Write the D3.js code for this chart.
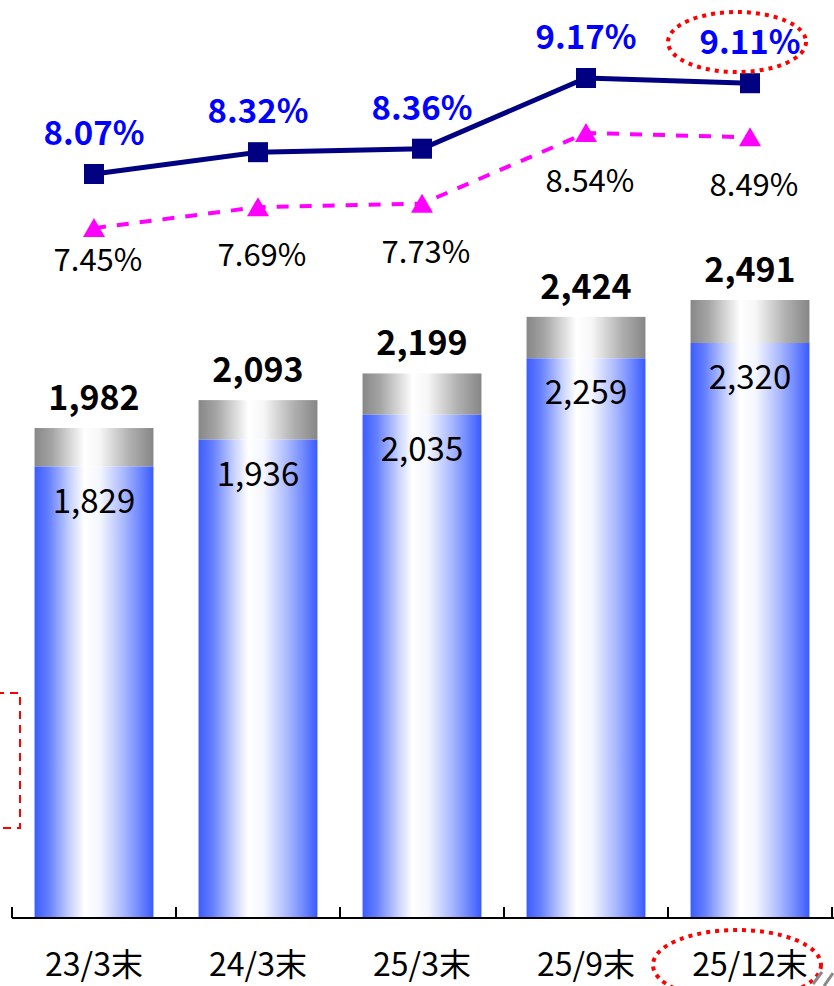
<!DOCTYPE html>
<html><head><meta charset="utf-8">
<script src="https://cdn.jsdelivr.net/npm/d3@7"></script>
<style>body{margin:0;background:#fff}svg{display:block}text{font-family:"Noto Sans CJK JP","Noto Sans",sans-serif}</style>
</head><body>
<script>
const categories = ["23/3末","24/3末","25/3末","25/9末","25/12末"];
const totalValues = [1982, 2093, 2199, 2424, 2491];
const innerValues = [1829, 1936, 2035, 2259, 2320];
const ratioA = [8.07, 8.32, 8.36, 9.17, 9.11];
const ratioB = [7.45, 7.69, 7.73, 8.54, 8.49];
const labelBOffset = [43, 59, 59, 59, 59];

const W = 834, H = 986, axisY = 918;
const svg = d3.select("body").append("svg").attr("width", W).attr("height", H);
const defs = svg.append("defs");
function grad(id, stops){
  const g = defs.append("linearGradient").attr("id", id).attr("x1","0").attr("x2","1").attr("y1","0").attr("y2","0");
  stops.forEach(s => g.append("stop").attr("offset", s[0]).attr("stop-color", s[1]));
}
grad("gBlue", [[0,"#3c5cff"],[0.12,"#6580ff"],[0.3,"#c8d2ff"],[0.42,"#ffffff"],[0.55,"#f4f6ff"],[0.75,"#a9b8ff"],[0.9,"#6882ff"],[1,"#3a5aff"]]);
grad("gGray", [[0,"#878787"],[0.15,"#a5a5a5"],[0.42,"#ffffff"],[0.55,"#f6f6f6"],[0.8,"#b0b0b0"],[1,"#868686"]]);

const x = d3.scaleBand().domain(categories).range([12, 832]).paddingInner(0.275).paddingOuter(0.1375);
const yBar = d3.scaleLinear().domain([34, 2491]).range([axisY, 300]);
const yPct = d3.scaleLinear().domain([8.07, 9.17]).range([174, 78]);

// bars
const bars = svg.append("g");
categories.forEach((c,i)=>{
  bars.append("rect").attr("x", x(c)).attr("width", x.bandwidth())
    .attr("y", yBar(totalValues[i])).attr("height", yBar(innerValues[i]) - yBar(totalValues[i]))
    .attr("fill","url(#gGray)");
  bars.append("rect").attr("x", x(c)).attr("width", x.bandwidth())
    .attr("y", yBar(innerValues[i])).attr("height", axisY - yBar(innerValues[i]))
    .attr("fill","url(#gBlue)");
  const cx = x(c) + x.bandwidth()/2;
  svg.append("text").attr("x", cx).attr("y", yBar(totalValues[i]) - 18)
    .attr("text-anchor","middle").attr("font-size", 34).attr("font-weight","bold").attr("fill","#000")
    .text(d3.format(",")(totalValues[i]));
  svg.append("text").attr("x", cx).attr("y", yBar(innerValues[i]) + 46)
    .attr("text-anchor","middle").attr("font-size", 33).attr("fill","#000")
    .text(d3.format(",")(innerValues[i]));
});

// axis
const axisG = svg.append("g").attr("transform", `translate(0,${axisY})`);
axisG.append("line").attr("x1", 12).attr("x2", W).attr("y1", 0).attr("y2", 0).attr("stroke","#000").attr("stroke-width",2);
const tickXs = categories.map(c => x(c) - x.step()*x.paddingInner()/2).concat([x(categories[4]) + x.bandwidth() + x.step()*x.paddingInner()/2]);
tickXs.forEach(t => axisG.append("line").attr("x1", t).attr("x2", t).attr("y1", 0).attr("y2", -11).attr("stroke","#000").attr("stroke-width",2));
categories.forEach(c => {
  svg.append("text").attr("x", x(c) + x.bandwidth()/2).attr("y", 976).attr("text-anchor","middle")
    .attr("font-size", 32).attr("fill","#000").text(c);
});

// lines
const cxs = categories.map(c => x(c) + x.bandwidth()/2);
const lineGen = d3.line().x((d,i)=>cxs[i]).y(d=>yPct(d));
svg.append("path").attr("d", lineGen(ratioB)).attr("fill","none").attr("stroke","#ff00ff")
  .attr("stroke-width",4).attr("stroke-dasharray","12,11");
svg.append("path").attr("d", lineGen(ratioA)).attr("fill","none").attr("stroke","#000080").attr("stroke-width",5);
ratioA.forEach((v,i)=>{
  svg.append("rect").attr("x", cxs[i]-10).attr("y", yPct(v)-10).attr("width",20).attr("height",20).attr("fill","#000080");
  svg.append("text").attr("x", cxs[i]).attr("y", yPct(v)-29).attr("text-anchor","middle")
    .attr("font-size",33).attr("font-weight","bold").attr("fill","#0000ff").text(v.toFixed(2)+"%");
});
ratioB.forEach((v,i)=>{
  const yy = yPct(v);
  svg.append("path").attr("d", `M${cxs[i]},${yy-10}L${cxs[i]+11},${yy+9}L${cxs[i]-11},${yy+9}Z`).attr("fill","#ff00ff");
  svg.append("text").attr("x", cxs[i]+4).attr("y", yy+labelBOffset[i]).attr("text-anchor","middle")
    .attr("font-size",31).attr("fill","#000").text(v.toFixed(2)+"%");
});

// annotations
svg.append("ellipse").attr("cx",737).attr("cy",42).attr("rx",69).attr("ry",30)
  .attr("fill","none").attr("stroke","#ff0000").attr("stroke-width",4).attr("stroke-dasharray","4,5");
svg.append("ellipse").attr("cx",737).attr("cy",965).attr("rx",84).attr("ry",35)
  .attr("fill","none").attr("stroke","#ff0000").attr("stroke-width",4).attr("stroke-dasharray","4,5");
svg.append("rect").attr("x",-60).attr("y",693).attr("width",80).attr("height",135)
  .attr("fill","none").attr("stroke","#ff0000").attr("stroke-width",2).attr("stroke-dasharray","8,6");
svg.append("path").attr("d","M813,984L822,972M824,986L833,973").attr("stroke","#888").attr("stroke-width",3).attr("fill","none");
</script>
</body></html>
